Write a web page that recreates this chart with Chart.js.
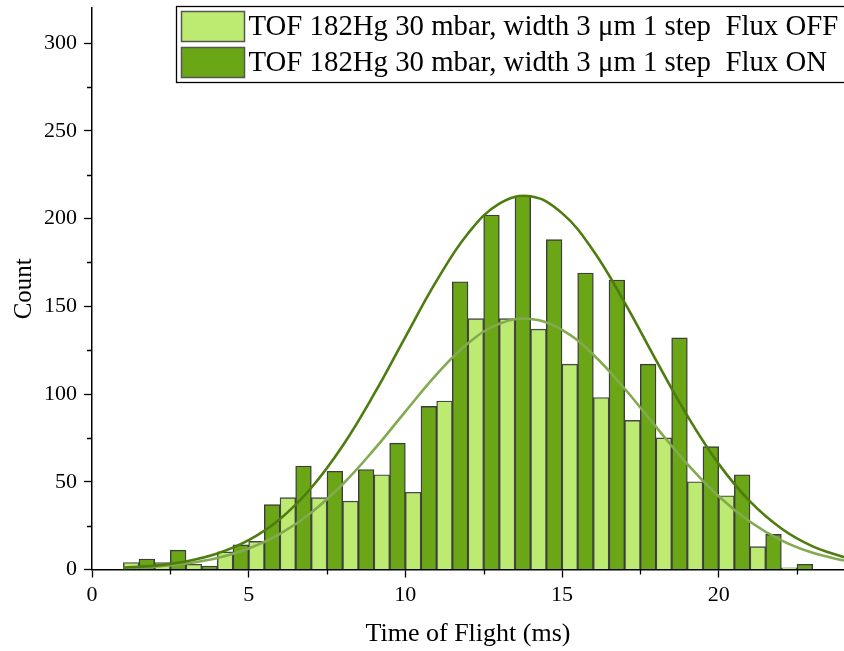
<!DOCTYPE html>
<html>
<head>
<meta charset="utf-8">
<script src="https://cdn.jsdelivr.net/npm/chart.js@4.4.1/dist/chart.umd.min.js"></script>
<style>
    html, body { margin: 0; padding: 0; background: #fff; }
    #tofChart { display: block; }
</style>
</head>
<body>
<canvas id="tofChart" width="844" height="651"></canvas>
<script>
// 1 ms bins, each split in two halves: Flux OFF (left half) | Flux ON (right half)
const binStart = [1, 2, 3, 4, 5, 6, 7, 8, 9, 10, 11, 12, 13, 14, 15, 16, 17, 18, 19, 20, 21, 22]
const countOff = [4, 4, 3, 10, 16, 41, 41, 39, 54, 44, 96, 143, 143, 137, 117, 98, 85, 75, 50, 42, 13, 1]
const countOn = [6, 11, 2, 14, 37, 59, 56, 57, 72, 93, 164, 202, 213, 188, 169, 165, 117, 132, 70, 54, 20, 3]

// gaussian fit curves, sampled every ms
const fitTime = [1, 2, 3, 4, 5, 6, 7, 8, 9, 10, 11, 12, 13, 14, 15, 16, 17, 18, 19, 20, 21, 22, 23, 24]
const fitOff = [0.75, 1.6, 3.4, 6.6, 12.0, 20.3, 32.5, 48.6, 68.3, 90.0, 111.2, 128.9, 140.1, 142.8, 136.6, 122.4, 103.0, 81.3, 60.1, 41.7, 27.2, 16.6, 9.5, 5.1]
const fitOn = [1.0, 2.2, 4.6, 9.1, 16.7, 28.8, 46.6, 70.5, 99.9, 132.5, 164.6, 191.5, 208.5, 212.7, 203.1, 181.7, 152.1, 119.3, 87.6, 60.2, 38.8, 23.4, 13.2, 7.0]

const labelOff = 'TOF 182Hg 30 mbar, width 3 \u03bcm 1 step  Flux OFF'
const labelOn = 'TOF 182Hg 30 mbar, width 3 \u03bcm 1 step  Flux ON'

const serif = "'Liberation Serif', 'Times New Roman', serif"
Chart.defaults.font.family = serif
Chart.defaults.color = '#000'

const xy = (xs, ys, shift) => ys.map((v, i) => ({ x: xs[i] + shift, y: v }))

// shorter tick marks between the labelled ones
const minorTicks = {
    id: 'minorTicks',
    afterDraw(chart) {
        const { ctx, chartArea, scales } = chart
        ctx.save()
        ctx.strokeStyle = '#000'
        ctx.lineWidth = 1.3
        ctx.beginPath()
        scales.y.ticks.filter(t => t.value % 50 !== 0).forEach(t => {
            const py = Math.round(scales.y.getPixelForValue(t.value)) + 0.5
            ctx.moveTo(chartArea.left - 5, py)
            ctx.lineTo(chartArea.left, py)
        })
        scales.x.ticks.filter(t => t.value % 5 !== 0).forEach(t => {
            const px = Math.round(scales.x.getPixelForValue(t.value)) + 0.5
            ctx.moveTo(px, chartArea.bottom)
            ctx.lineTo(px, chartArea.bottom + 5)
        })
        ctx.stroke()
        ctx.restore()
    },
}

// boxed legend in the top right corner of the plot
const boxLegend = {
    id: 'boxLegend',
    afterDraw(chart) {
        const { ctx, chartArea } = chart
        const items = chart.data.datasets.filter(d => d.type === 'bar')
        const left = chartArea.left + 84.5
        const top = chartArea.top - 1.5
        const rowH = 36
        ctx.save()
        ctx.fillStyle = '#fff'
        ctx.fillRect(left, top, chart.width - left + 10, rowH * items.length + 4)
        ctx.strokeStyle = '#000'
        ctx.lineWidth = 1.3
        ctx.strokeRect(left, top, chart.width - left + 10, rowH * items.length + 4)
        ctx.font = '28.8px ' + serif
        ctx.textBaseline = 'middle'
        items.forEach((d, i) => {
            const y = top + 5 + i * rowH
            ctx.fillStyle = d.backgroundColor
            ctx.fillRect(left + 5, y, 63, 30)
            ctx.strokeStyle = '#555'
            ctx.lineWidth = 1.5
            ctx.strokeRect(left + 5, y, 63, 30)
            ctx.fillStyle = '#000'
            ctx.fillText(d.label, left + 72, y + 16)
        })
        ctx.restore()
    },
}

const ctx = document.querySelector('#tofChart').getContext('2d')

const tofChart = new Chart(ctx, {
    data: {
        datasets: [
            {
                type: 'bar',
                label: labelOff,
                data: xy(binStart, countOff, 0.25),
                backgroundColor: '#bdeb72',
                borderColor: '#474747',
                borderWidth: 1.4,
                grouped: false,
                barPercentage: 1,
                categoryPercentage: 1,
                order: 3,
            },
            {
                type: 'bar',
                label: labelOn,
                data: xy(binStart, countOn, 0.75),
                backgroundColor: '#6ba616',
                borderColor: '#3d3d3d',
                borderWidth: 1.4,
                grouped: false,
                barPercentage: 1,
                categoryPercentage: 1,
                order: 2,
            },
            {
                type: 'line',
                label: 'fit OFF',
                data: xy(fitTime, fitOff, 0),
                borderColor: '#82aa4f',
                borderWidth: 2.6,
                pointRadius: 0,
                tension: 0.4,
                fill: false,
                order: 1,
            },
            {
                type: 'line',
                label: 'fit ON',
                data: xy(fitTime, fitOn, 0),
                borderColor: '#4d7c0f',
                borderWidth: 2.6,
                pointRadius: 0,
                tension: 0.4,
                fill: false,
                order: 0,
            },
        ],
    },
    options: {
        responsive: false,
        animation: false,
        layout: { padding: { top: 8, right: 0, left: 0, bottom: 0 } },
        plugins: {
            legend: { display: false },
            tooltip: { enabled: false },
        },
        scales: {
            x: {
                type: 'linear',
                min: 0,
                max: 24,
                offset: false,
                border: { color: '#000', width: 1.5 },
                grid: {
                    offset: false,
                    drawOnChartArea: false,
                    tickLength: 8,
                    tickWidth: 1.3,
                    tickColor: c => (c.tick && c.tick.value % 5 === 0 ? '#000' : 'rgba(0,0,0,0)'),
                },
                ticks: {
                    stepSize: 2.5,
                    includeBounds: false,
                    autoSkip: false,
                    maxRotation: 0,
                    padding: 5,
                    font: { size: 22 },
                    callback: v => (v % 5 === 0 ? v : ''),
                },
                title: {
                    display: true,
                    text: 'Time of Flight (ms)',
                    font: { size: 26 },
                    padding: { top: 0, bottom: 1 },
                },
                afterFit: s => {
                    s.height = 81.5
                    s.paddingLeft = 0
                    s.paddingRight = 0
                },
            },
            y: {
                min: 0,
                max: 320,
                border: { color: '#000', width: 1.5 },
                grid: {
                    drawOnChartArea: false,
                    tickLength: 8,
                    tickWidth: 1.3,
                    tickColor: c => (c.tick && c.tick.value % 50 === 0 ? '#000' : 'rgba(0,0,0,0)'),
                },
                ticks: {
                    stepSize: 25,
                    includeBounds: false,
                    autoSkip: false,
                    padding: 7,
                    font: { size: 22 },
                    callback: v => (v % 50 === 0 ? v : ''),
                },
                title: {
                    display: true,
                    text: 'Count',
                    font: { size: 25 },
                    padding: { top: 9, bottom: 0 },
                },
                afterFit: s => {
                    s.width = 92
                    s.paddingTop = 0
                    s.paddingBottom = 0
                },
            },
        },
    },
    plugins: [minorTicks, boxLegend],
})
</script>
</body>
</html>
